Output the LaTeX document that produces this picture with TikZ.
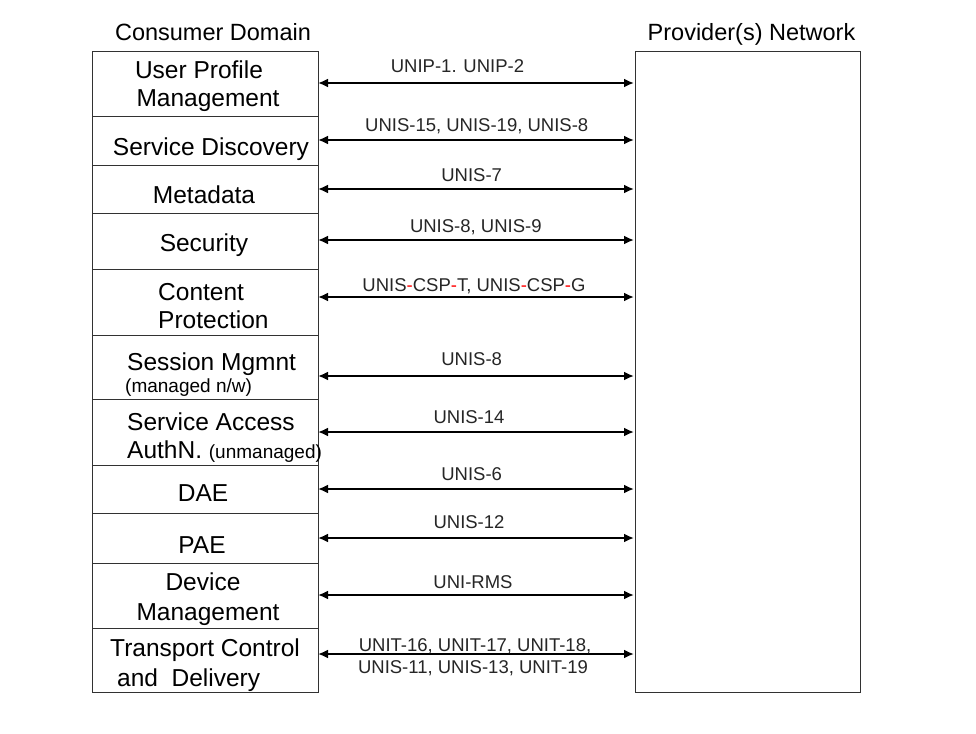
\documentclass[tikz,border=0pt]{standalone}
\usepackage{fontspec}
\setmainfont{Liberation Sans}
\usetikzlibrary{arrows.meta}
\definecolor{boxc}{RGB}{50,50,50}
\begin{document}
\begin{tikzpicture}[x=1pt,y=-1pt,
  box/.style={draw=boxc, line width=1.3pt, inner sep=0pt, minimum width=226pt, anchor=north west},
  lbl/.style={font=\fontsize{18.5}{20}\selectfont, anchor=base, inner sep=0pt, text=black!85},
  body/.style={font=\fontsize{24.5}{26}\selectfont, anchor=base, inner sep=0pt},
  bodyl/.style={body, anchor=base west},
  small/.style={font=\fontsize{19}{20}\selectfont, anchor=base west, inner sep=0pt},
  head/.style={font=\fontsize{23.5}{25}\selectfont, anchor=base, inner sep=0pt},
  link/.style={line width=2.5pt, {Latex[length=10pt,width=9pt]}-{Latex[length=10pt,width=9pt]}}]
\useasboundingbox[fill=white] (0,0) rectangle (976,733);

% headers
\node[head] (hc) at (213,40.4) {Consumer Domain};
\node[head] (hp) at (751.5,40.4) {Provider(s) Network};

% consumer rows
\node[box, minimum height=65.3pt] (r1) at (92,50.7) {};
\node[box, minimum height=49pt] (r2) at (92,116) {};
\node[box, minimum height=48pt] (r3) at (92,165) {};
\node[box, minimum height=56pt] (r4) at (92,213) {};
\node[box, minimum height=66pt] (r5) at (92,269) {};
\node[box, minimum height=64pt] (r6) at (92,335) {};
\node[box, minimum height=66pt] (r7) at (92,399) {};
\node[box, minimum height=48pt] (r8) at (92,465) {};
\node[box, minimum height=50pt] (r9) at (92,513) {};
\node[box, minimum height=65pt] (r10) at (92,563) {};
\node[box, minimum height=64pt] (r11) at (92,628) {};

% provider box
\node[box, minimum width=225pt, minimum height=641.3pt] (prov) at (635,50.7) {};

% row texts
\node[body] (t1a) at (199,78.8) {User Profile};
\node[body] (t1b) at (208,106.8) {Management};
\node[body] (t2) at (211,155.8) {Service Discovery};
\node[body] (t3) at (204,203.8) {Metadata};
\node[body] (t4) at (204,251.8) {Security};
\node[bodyl] (t5a) at (158,300.8) {Content};
\node[bodyl] (t5b) at (158,328.8) {Protection};
\node[bodyl] (t6a) at (127,370.8) {Session Mgmnt};
\node[small] (t6b) at (125,392) {(managed n/w)};
\node[bodyl] (t7a) at (127,430.8) {Service Access};
\node[bodyl] (t7b) at (127,458.8) {AuthN. {\fontsize{19}{20}\selectfont(unmanaged)}};
\node[body] (t8) at (203,501.8) {DAE};
\node[body] (t9) at (202,553.8) {PAE};
\node[body] (t10a) at (203,590.8) {Device};
\node[body] (t10b) at (208,620.8) {Management};
\node[bodyl] (t11a) at (110,656.8) {Transport Control};
\node[bodyl] (t11b) at (117,686.8) {and\ \ Delivery};

% connector end points
\foreach \i/\y in {1/83,2/140,3/189,4/240,5/297,6/376,7/432,8/489,9/538,10/595,11/654}{
  \coordinate (cl\i) at (318,\y);
  \coordinate (cp\i) at (634,\y);
}
\foreach \i in {1,...,11}{
  \draw[link] (cl\i) -- (cp\i);
}

% connector labels
\node[lbl] (l1) at (457.5,72.6) {UNIP-1. UNIP-2};
\node[lbl] (l2) at (476.7,131.6) {UNIS-15, UNIS-19, UNIS-8};
\node[lbl] (l3) at (471.7,181.6) {UNIS-7};
\node[lbl] (l4) at (475.8,232.6) {UNIS-8, UNIS-9};
\node[lbl] (l5) at (474,291.6) {UNIS{\color{red}-}CSP{\color{red}-}T, UNIS{\color{red}-}CSP{\color{red}-}G};
\node[lbl] (l6) at (471.7,365.6) {UNIS-8};
\node[lbl] (l7) at (469,423.6) {UNIS-14};
\node[lbl] (l8) at (471.7,480.6) {UNIS-6};
\node[lbl] (l9) at (469,528.6) {UNIS-12};
\node[lbl] (l10) at (473,588.6) {UNI-RMS};
\node[lbl] (l11a) at (475,651.6) {UNIT-16, UNIT-17, UNIT-18,};
\node[lbl] (l11b) at (473,673.6) {UNIS-11, UNIS-13, UNIT-19};
\end{tikzpicture}
\end{document}
